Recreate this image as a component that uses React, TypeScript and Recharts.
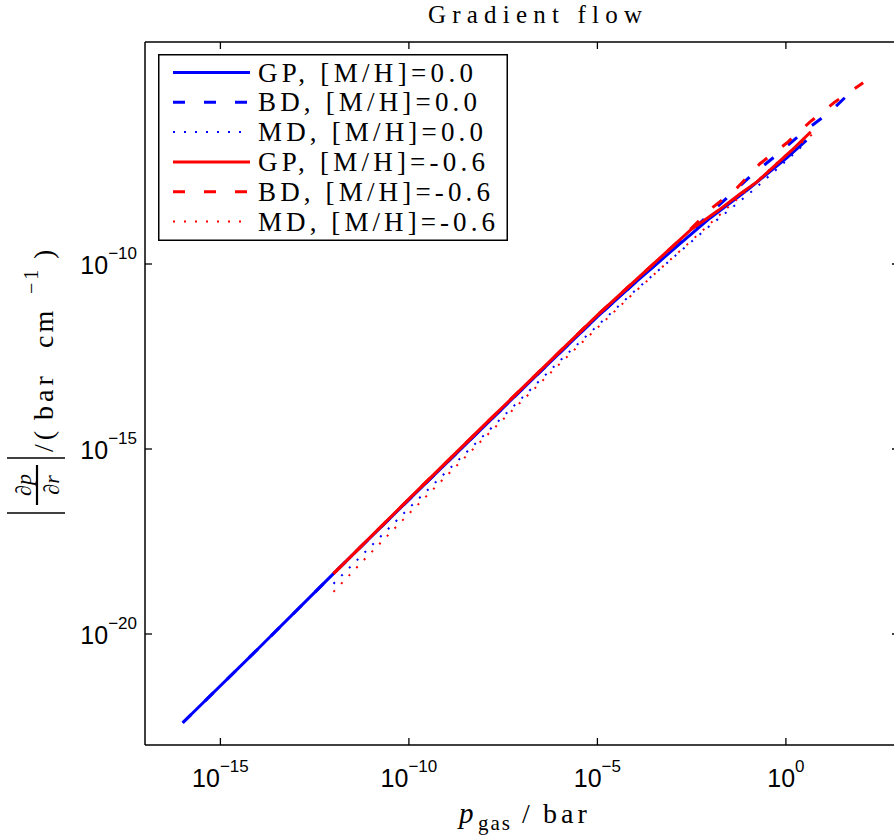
import React from 'react'
import { LineChart, Line, XAxis, YAxis, Legend } from 'recharts'

// p_gas sample points (bar) and |dp/dr| (bar/cm) for each run
const gpSolarP = [1e-16, 1e-14, 1e-12, 1e-10, 1e-8, 1e-6, 1e-5, 1e-4, 1e-3, 1e-2, 1e-1, 1, 3.5]
const gpSolarG = [3.98e-23, 3.98e-21, 4.27e-19, 4.27e-17, 4.17e-15, 3.98e-13, 3.8e-12, 3.16e-11, 2.4e-10, 1.78e-9, 1.05e-8, 7.08e-8, 2.19e-7]

const bdSolarP = [1e-16, 1e-14, 1e-12, 1e-10, 1e-8, 1e-6, 1e-5, 1e-4, 1e-3, 1e-2, 0.123, 0.56, 2.9, 14.8, 44.7]
const bdSolarG = [3.98e-23, 3.98e-21, 4.27e-19, 4.27e-17, 4.17e-15, 3.98e-13, 3.8e-12, 3.16e-11, 2.45e-10, 2.4e-9, 2.51e-8, 8.71e-8, 3.72e-7, 1.29e-6, 3.8e-6]

const mdSolarP = [1e-12, 1e-10, 1e-8, 1e-6, 1e-4, 1e-2, 1e-1, 1, 2.63]
const mdSolarG = [2.29e-19, 2.51e-17, 2.4e-15, 2.4e-13, 1.91e-11, 1.12e-9, 7.59e-9, 6.03e-8, 1.51e-7]

const gpPoorP = [1e-12, 1e-10, 1e-8, 1e-6, 1e-5, 1e-4, 2.88e-3, 1.62e-2, 6.17e-2, 0.17, 1.41, 4.57]
const gpPoorG = [4.27e-19, 4.47e-17, 4.47e-15, 4.27e-13, 4.17e-12, 3.55e-11, 8.13e-10, 2.82e-9, 7.94e-9, 1.66e-8, 1.17e-7, 3.72e-7]

const bdPoorP = [1e-12, 1e-10, 1e-8, 1e-6, 1e-5, 1e-4, 1e-3, 1.17e-2, 4.9e-2, 0.204, 1.05, 4.37, 20, 112]
const bdPoorG = [4.27e-19, 4.47e-17, 4.47e-15, 4.27e-13, 4.17e-12, 3.55e-11, 3.0e-10, 3.47e-9, 1.1e-8, 5.13e-8, 1.86e-7, 6.92e-7, 2.4e-6, 7.94e-6]

const mdPoorP = [1e-12, 7.59e-12, 1e-10, 1e-8, 1e-6, 1e-4, 1e-2, 1, 7.24]
const mdPoorG = [1.38e-19, 1.2e-18, 1.78e-17, 2.0e-15, 2.0e-13, 1.78e-11, 1.26e-9, 8.91e-8, 4.27e-7]

const xTicks = [1e-15, 1e-10, 1e-5, 1]
const yTicks = [1e-20, 1e-15, 1e-10]

const toPoints = (p: number[], g: number[]) => p.map((x, i) => ({ x, y: g[i] }))

const series = [
  { name: 'GP, [M/H]=0.0', color: '#0000ff', dash: undefined, width: 3, data: toPoints(gpSolarP, gpSolarG) },
  { name: 'BD, [M/H]=0.0', color: '#0000ff', dash: '12 19', width: 3, data: toPoints(bdSolarP, bdSolarG) },
  { name: 'MD, [M/H]=0.0', color: '#0000ff', dash: '2 9', width: 2, data: toPoints(mdSolarP, mdSolarG) },
  { name: 'GP, [M/H]=-0.6', color: '#ff0000', dash: undefined, width: 3, data: toPoints(gpPoorP, gpPoorG) },
  { name: 'BD, [M/H]=-0.6', color: '#ff0000', dash: '12 19', width: 3, data: toPoints(bdPoorP, bdPoorG) },
  { name: 'MD, [M/H]=-0.6', color: '#ff0000', dash: '2 9', width: 2, data: toPoints(mdPoorP, mdPoorG) },
]

const legendEnds = [473, 477, 483, 485, 490, 495]

const tickFont = '"Liberation Sans", Arial, sans-serif'
const serif = '"Liberation Serif", "DejaVu Serif", serif'

const expOf = (v: number) => {
  const e = Math.round(Math.log10(v))
  return e < 0 ? `\u2212${-e}` : `${e}`
}

function BottomTick(props: any) {
  const { x, y, payload } = props
  return (
    <g>
      <line x1={x} x2={x} y1={y} y2={y - 7} stroke="#000" strokeWidth={1.3} />
      <text x={x} y={y + 42} textAnchor="middle" fontFamily={tickFont} fontSize={25} fill="#000">
        10<tspan dy={-15} fontSize={17}>{expOf(payload.value)}</tspan>
      </text>
    </g>
  )
}

function LeftTick(props: any) {
  const { x, y, payload } = props
  return (
    <g>
      <line x1={x} x2={x + 7} y1={y} y2={y} stroke="#000" strokeWidth={1.3} />
      <text x={x - 8} y={y + 10} textAnchor="end" fontFamily={tickFont} fontSize={25} fill="#000">
        10<tspan dy={-15} fontSize={17}>{expOf(payload.value)}</tspan>
      </text>
    </g>
  )
}

function TopTick(props: any) {
  const { x, y } = props
  return <line x1={x} x2={x} y1={y} y2={y + 7} stroke="#000" strokeWidth={1.3} />
}

function RightTick(props: any) {
  const { x, y } = props
  return <line x1={x} x2={x - 7} y1={y} y2={y} stroke="#000" strokeWidth={1.3} />
}

function LegendBox() {
  return (
    <svg width={350} height={188} style={{ display: 'block' }}>
      <rect x={0.75} y={0.75} width={348.5} height={185.5} fill="#fff" stroke="#000" strokeWidth={1.5} />
      {series.map((s, i) => {
        const cy = 18.5 + i * 29.8
        return (
          <g key={s.name}>
            <line x1={15} x2={92} y1={cy} y2={cy} stroke={s.color} strokeWidth={s.width} strokeDasharray={s.dash} />
            <text
              x={100}
              y={cy + 9}
              fontFamily={serif}
              fontSize={27}
              fill="#000"
              textLength={legendEnds[i] - 258}
              lengthAdjust="spacing"
            >
              {s.name}
            </text>
          </g>
        )
      })}
    </svg>
  )
}

export default function App() {
  return (
    <div style={{ position: 'absolute', left: 0, top: 0, width: 894, height: 837, overflow: 'hidden', background: '#fff' }}>
      <LineChart width={910} height={837} margin={{ top: 41, right: 10, bottom: 0, left: 0 }}>
        <XAxis
          xAxisId="b"
          dataKey="x"
          type="number"
          scale="log"
          domain={[1e-17, 1e3]}
          allowDataOverflow
          ticks={xTicks}
          interval={0}
          tickSize={0}
          tickMargin={0}
          tickLine={false}
          tick={<BottomTick />}
          height={92}
          axisLine={{ stroke: '#000', strokeWidth: 1.5 }}
        />
        <XAxis
          xAxisId="t"
          orientation="top"
          dataKey="x"
          type="number"
          scale="log"
          domain={[1e-17, 1e3]}
          allowDataOverflow
          ticks={xTicks}
          interval={0}
          tickSize={0}
          tickMargin={0}
          tickLine={false}
          tick={<TopTick />}
          height={1}
          axisLine={{ stroke: '#000', strokeWidth: 1.5 }}
        />
        <YAxis
          yAxisId="l"
          type="number"
          scale="log"
          domain={[1e-23, 1e-4]}
          allowDataOverflow
          ticks={yTicks}
          interval={0}
          tickSize={0}
          tickMargin={0}
          tickLine={false}
          tick={<LeftTick />}
          width={145}
          axisLine={{ stroke: '#000', strokeWidth: 1.5 }}
        />
        <YAxis
          yAxisId="r"
          orientation="right"
          type="number"
          scale="log"
          domain={[1e-23, 1e-4]}
          allowDataOverflow
          ticks={yTicks}
          interval={0}
          tickSize={0}
          tickMargin={0}
          tickLine={false}
          tick={<RightTick />}
          width={1}
          axisLine={{ stroke: '#000', strokeWidth: 1.5 }}
        />
        {series.map((s) => (
          <Line
            key={s.name}
            xAxisId="b"
            yAxisId="l"
            data={s.data}
            dataKey="y"
            name={s.name}
            type="linear"
            stroke={s.color}
            strokeWidth={s.width}
            strokeDasharray={s.dash}
            dot={false}
            activeDot={false}
            isAnimationActive={false}
          />
        ))}
        {/* invisible copy bound to the mirrored axes so they get drawn */}
        <Line
          xAxisId="t"
          yAxisId="r"
          data={series[0].data}
          dataKey="y"
          stroke="none"
          dot={false}
          activeDot={false}
          legendType="none"
          isAnimationActive={false}
        />
        <Legend
          layout="vertical"
          align="center"
          verticalAlign="middle"
          content={() => <LegendBox />}
          wrapperStyle={{ position: 'absolute', left: 158, top: 54, width: 350, height: 188 }}
        />
      </LineChart>
      <svg width={894} height={837} style={{ position: 'absolute', left: 0, top: 0, pointerEvents: 'none' }}>
        <text x={428} y={23} fontFamily={serif} fontSize={25} fill="#000" textLength={214} lengthAdjust="spacing">
          Gradient flow
        </text>
        <g fontFamily={serif} fill="#000">
          <text x={459} y={823} fontSize={29} fontStyle="italic">p</text>
          <text x={478} y={830} fontSize={21} style={{ letterSpacing: 2 }}>gas</text>
          <text x={522} y={823} fontSize={28}>/</text>
          <text x={543} y={823} fontSize={28} style={{ letterSpacing: 4 }}>bar</text>
        </g>
        <g transform="translate(53 0) rotate(-90)" fontFamily={serif} fill="#000">
          <line x1={-458} x2={-458} y1={-46} y2={12} stroke="#000" strokeWidth={1.6} />
          <line x1={-513} x2={-513} y1={-46} y2={12} stroke="#000" strokeWidth={1.6} />
          <text x={-485} y={-22} fontSize={22} textAnchor="middle">∂<tspan fontStyle="italic">p</tspan></text>
          <line x1={-505} x2={-465} y1={-16} y2={-16} stroke="#000" strokeWidth={2.2} />
          <text x={-485} y={6} fontSize={22} textAnchor="middle">∂<tspan fontStyle="italic">r</tspan></text>
          <text x={-452} y={0} fontSize={28} style={{ letterSpacing: 4 }}>/(</text>
          <text x={-420} y={0} fontSize={28} style={{ letterSpacing: 4 }}>bar</text>
          <text x={-348} y={0} fontSize={28} style={{ letterSpacing: 3 }}>cm</text>
          <text x={-294} y={-15} fontSize={20} style={{ letterSpacing: 3 }}>{'\u22121'}</text>
          <text x={-259} y={0} fontSize={28}>)</text>
        </g>
      </svg>
    </div>
  )
}
